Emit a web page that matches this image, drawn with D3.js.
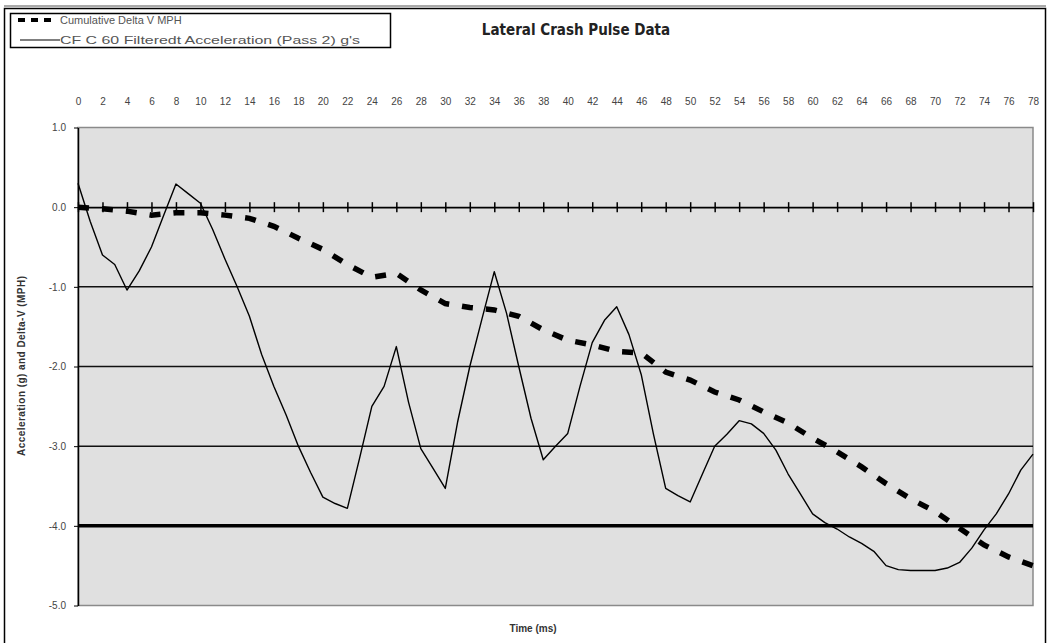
<!DOCTYPE html>
<html><head><meta charset="utf-8">
<script src="https://cdn.jsdelivr.net/npm/d3@7"></script>
<style>
body{margin:0;background:#fff;}
svg{display:block;font-family:"Liberation Sans",Arial,sans-serif;}
</style></head>
<body><svg id="c" width="1050" height="643"></svg>
<script>
// ---- data ----
const accelTimes = d3.range(0, 79, 1);
const accelValues = [0.30,-0.18,-0.60,-0.72,-1.04,-0.80,-0.50,-0.10,0.29,0.17,
 0.05,-0.28,-0.65,-1.00,-1.37,-1.85,-2.25,-2.61,-3.00,-3.33,
 -3.64,-3.72,-3.78,-3.15,-2.50,-2.25,-1.75,-2.45,-3.03,-3.28,
 -3.53,-2.70,-2.00,-1.40,-0.81,-1.33,-2.00,-2.65,-3.17,-3.00,
 -2.84,-2.25,-1.70,-1.42,-1.25,-1.60,-2.10,-2.85,-3.53,-3.62,
 -3.70,-3.35,-3.00,-2.85,-2.68,-2.72,-2.84,-3.05,-3.35,-3.60,
 -3.85,-3.96,-4.04,-4.14,-4.22,-4.32,-4.50,-4.55,-4.56,-4.56,
 -4.56,-4.53,-4.46,-4.28,-4.05,-3.85,-3.60,-3.30,-3.10];
const deltaTimes = d3.range(0, 79, 2);
const deltaValues = [0.00,-0.02,-0.05,-0.10,-0.07,-0.07,-0.10,-0.14,-0.24,-0.39,
 -0.53,-0.72,-0.88,-0.83,-1.04,-1.21,-1.26,-1.29,-1.37,-1.54,
 -1.67,-1.73,-1.81,-1.83,-2.07,-2.17,-2.32,-2.42,-2.57,-2.71,
 -2.90,-3.07,-3.26,-3.47,-3.66,-3.82,-4.03,-4.24,-4.39,-4.50];
const xTickValues = d3.range(0, 79, 2);
const xTickLabels = xTickValues.map(String);
const yTickValues = [1,0,-1,-2,-3,-4,-5];
const yTickLabels = ["1.0","0.0","-1.0","-2.0","-3.0","-4.0","-5.0"];
const seriesNames = ["Cumulative Delta V MPH","CF C 60 Filteredt Acceleration (Pass 2) g's"];
const chartTitle = "Lateral Crash Pulse Data";
const xTitle = "Time (ms)";
const yTitle = "Acceleration (g) and Delta-V (MPH)";

// ---- layout ----
const svg = d3.select("#c");
const L = 78, R = 1033, T = 127.5, B = 605.5;
const x = d3.scaleLinear().domain([0,78]).range([L,R]);
const y = d3.scaleLinear().domain([-5,1]).range([B,T]);

// outer frame
svg.append("rect").attr("x",4.5).attr("y",8.5).attr("width",1041).attr("height",640)
  .attr("fill","none").attr("stroke","#000").attr("stroke-width",1.5);
svg.append("line").attr("x1",4).attr("x2",1046).attr("y1",6).attr("y2",6)
  .attr("stroke","#555").attr("stroke-width",1);

// plot area
svg.append("rect").attr("x",L).attr("y",T).attr("width",R-L).attr("height",B-T)
  .attr("fill","#e0e0e0").attr("stroke","#8a8a8a").attr("stroke-width",1.5);

// gridlines
[-1,-2,-3].forEach(v=>{
  svg.append("line").attr("x1",L).attr("x2",R).attr("y1",y(v)).attr("y2",y(v))
    .attr("stroke","#111").attr("stroke-width",1.5);
});
svg.append("line").attr("x1",L).attr("x2",R).attr("y1",y(-4)).attr("y2",y(-4))
  .attr("stroke","#000").attr("stroke-width",3.5);

// x axis on zero line
const xa = svg.append("g").attr("transform",`translate(0,${y(0)})`)
  .call(d3.axisBottom(x).tickValues(xTickValues).tickSizeOuter(0).tickFormat(""));
xa.select(".domain").attr("stroke","#000").attr("stroke-width",1.8);
xa.selectAll(".tick line").attr("y1",-5).attr("y2",5).attr("stroke","#000").attr("stroke-width",1.5);

// top tick labels
const xt = svg.append("g").attr("transform",`translate(0,108)`)
  .call(d3.axisTop(x).tickValues(xTickValues).tickSize(0).tickFormat((d,i)=>xTickLabels[i]));
xt.select(".domain").remove();
xt.selectAll("text").attr("font-size",10).attr("fill","#444").attr("font-family","Liberation Sans, Arial, sans-serif");

// y axis
const ya = svg.append("g").attr("transform",`translate(${L},0)`)
  .call(d3.axisLeft(y).tickValues(yTickValues).tickSize(4).tickSizeOuter(0).tickPadding(8)
    .tickFormat((d,i)=>yTickLabels[i]));
ya.select(".domain").attr("stroke","#000").attr("stroke-width",1.5);
ya.selectAll(".tick line").attr("stroke","#000");
ya.selectAll("text").attr("font-size",10).attr("fill","#444").attr("font-family","Liberation Sans, Arial, sans-serif");

// series
const accelData = accelTimes.map((t,i)=>[t,accelValues[i]]);
const deltaData = deltaTimes.map((t,i)=>[t,deltaValues[i]]);
const line = d3.line().x(d=>x(d[0])).y(d=>y(d[1]));
svg.append("path").datum(accelData).attr("d",line).attr("fill","none")
  .attr("stroke","#000").attr("stroke-width",1.4).attr("stroke-linejoin","round");
svg.append("path").datum(deltaData).attr("d",line).attr("fill","none")
  .attr("stroke","#000").attr("stroke-width",5.5).attr("stroke-dasharray","11,13");

// legend
svg.append("rect").attr("x",10.5).attr("y",13.5).attr("width",380).attr("height",34)
  .attr("fill","#fff").attr("stroke","#000").attr("stroke-width",1.5);
svg.append("line").attr("x1",18).attr("x2",52).attr("y1",20).attr("y2",20)
  .attr("stroke","#000").attr("stroke-width",4).attr("stroke-dasharray","7,6");
svg.append("line").attr("x1",20).attr("x2",60).attr("y1",40).attr("y2",40)
  .attr("stroke","#000").attr("stroke-width",1.2);
svg.append("text").attr("x",60).attr("y",24).attr("font-size",11).attr("fill","#555").text(seriesNames[0]);
svg.append("text").attr("x",60).attr("y",44).attr("font-size",11).attr("fill","#555")
  .attr("textLength",300).attr("lengthAdjust","spacingAndGlyphs").text(seriesNames[1]);

// titles
svg.append("text").attr("x",576).attr("y",35).attr("text-anchor","middle")
  .attr("font-size",15).attr("font-weight","bold").attr("fill","#222")
  .attr("font-family","Liberation Sans Narrow, DejaVu Sans Condensed, sans-serif").text(chartTitle);
svg.append("text").attr("x",533).attr("y",632).attr("text-anchor","middle")
  .attr("font-size",10).attr("font-weight","bold").attr("fill","#333").text(xTitle);
svg.append("text").attr("transform","translate(25,366) rotate(-90)").attr("text-anchor","middle")
  .attr("font-size",10).attr("font-weight","bold").attr("fill","#333").attr("textLength",180).text(yTitle);
</script></body></html>
